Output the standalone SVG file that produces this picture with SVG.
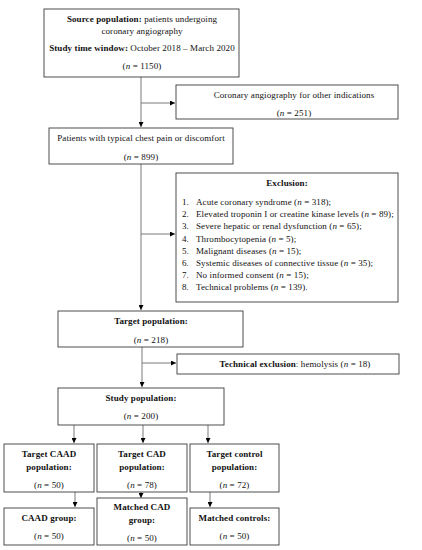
<svg xmlns="http://www.w3.org/2000/svg" width="422" height="550" viewBox="0 0 422 550">
<defs>
<marker id="ah" viewBox="0 0 6 6" refX="6" refY="3" markerWidth="5" markerHeight="5" orient="auto" markerUnits="userSpaceOnUse">
<path d="M0,0 L6,3 L0,6 Z" fill="#000"/>
</marker>
<style>
.box{fill:#fff;stroke:#3a3a3a;stroke-width:0.9}
.t{font-family:"Liberation Serif",serif;font-size:9px;letter-spacing:0.1px;fill:#111}
.c{text-anchor:middle}
.b{font-weight:bold}
.con{fill:none;stroke:#7a7a7a;stroke-width:1}
</style>
</defs>
<rect width="422" height="550" fill="#fff"/>
<g id="connectors">
<path class="con" d="M141,77 V127" marker-end="url(#ah)"/>
<path class="con" d="M141,103 H175" marker-end="url(#ah)"/>
<path class="con" d="M141,164 V310" marker-end="url(#ah)"/>
<path class="con" d="M141,234 H175" marker-end="url(#ah)"/>
<path class="con" d="M142,347 V387" marker-end="url(#ah)"/>
<path class="con" d="M142,363 H176" marker-end="url(#ah)"/>
<path class="con" d="M74,425 V443" marker-end="url(#ah)"/>
<path class="con" d="M143,425 V443" marker-end="url(#ah)"/>
<path class="con" d="M208,425 V443" marker-end="url(#ah)"/>
<path class="con" d="M75,492 V507" marker-end="url(#ah)"/>
<path class="con" d="M141,492 V498" marker-end="url(#ah)"/>
<path class="con" d="M210,492 V507" marker-end="url(#ah)"/>
</g>
<g id="source">
<rect class="box" x="44" y="9" width="195" height="68"/>
<text class="t c" x="142" y="22"><tspan class="b">Source population:</tspan> patients undergoing</text>
<text class="t c" x="142" y="34">coronary angiography</text>
<text class="t c" x="142" y="51"><tspan class="b">Study time window:</tspan> October 2018 – March 2020</text>
<text class="t c" x="142" y="69">(<tspan font-style="italic">n</tspan> = 1150)</text>
</g>
<g id="other">
<rect class="box" x="176" y="85" width="222" height="34"/>
<text class="t c" x="294" y="98">Coronary angiography for other indications</text>
<text class="t c" x="294" y="116">(<tspan font-style="italic">n</tspan> = 251)</text>
</g>
<g id="patients">
<rect class="box" x="49" y="128" width="184" height="36"/>
<text class="t c" x="141" y="141">Patients with typical chest pain or discomfort</text>
<text class="t c" x="141" y="160">(<tspan font-style="italic">n</tspan> = 899)</text>
</g>
<g id="exclusion">
<rect class="box" x="176" y="173" width="222" height="129"/>
<text class="t c b" x="287" y="186">Exclusion:</text>
<text class="t" x="182" y="205">1.</text><text class="t" x="196" y="205">Acute coronary syndrome (<tspan font-style="italic">n</tspan> = 318);</text>
<text class="t" x="182" y="217">2.</text><text class="t" x="196" y="217">Elevated troponin I or creatine kinase levels (<tspan font-style="italic">n</tspan> = 89);</text>
<text class="t" x="182" y="229">3.</text><text class="t" x="196" y="229">Severe hepatic or renal dysfunction (<tspan font-style="italic">n</tspan> = 65);</text>
<text class="t" x="182" y="241.5">4.</text><text class="t" x="196" y="241.5">Thrombocytopenia (<tspan font-style="italic">n</tspan> = 5);</text>
<text class="t" x="182" y="254">5.</text><text class="t" x="196" y="254">Malignant diseases (<tspan font-style="italic">n</tspan> = 15);</text>
<text class="t" x="182" y="266">6.</text><text class="t" x="196" y="266">Systemic diseases of connective tissue (<tspan font-style="italic">n</tspan> = 35);</text>
<text class="t" x="182" y="278">7.</text><text class="t" x="196" y="278">No informed consent (<tspan font-style="italic">n</tspan> = 15);</text>
<text class="t" x="182" y="290">8.</text><text class="t" x="196" y="290">Technical problems (<tspan font-style="italic">n</tspan> = 139).</text>
</g>
<g id="target">
<rect class="box" x="58" y="311" width="185" height="36"/>
<text class="t c b" x="151" y="324">Target population:</text>
<text class="t c" x="151" y="343">(<tspan font-style="italic">n</tspan> = 218)</text>
</g>
<g id="techexcl">
<rect class="box" x="177" y="354" width="222" height="20"/>
<text class="t c" x="295" y="367"><tspan class="b">Technical exclusion</tspan>: hemolysis (<tspan font-style="italic">n</tspan> = 18)</text>
</g>
<g id="study">
<rect class="box" x="58" y="388" width="166" height="37"/>
<text class="t c b" x="141" y="401">Study population:</text>
<text class="t c" x="141" y="419">(<tspan font-style="italic">n</tspan> = 200)</text>
</g>
<g id="target-caad">
<rect class="box" x="4" y="444" width="90" height="48"/>
<text class="t c b" x="49" y="457">Target CAAD</text>
<text class="t c b" x="49" y="470">population:</text>
<text class="t c" x="49" y="488">(<tspan font-style="italic">n</tspan> = 50)</text>
</g>
<g id="target-cad">
<rect class="box" x="97" y="444" width="90" height="48"/>
<text class="t c b" x="142" y="457">Target CAD</text>
<text class="t c b" x="142" y="470">population:</text>
<text class="t c" x="142" y="488">(<tspan font-style="italic">n</tspan> = 78)</text>
</g>
<g id="target-control">
<rect class="box" x="190" y="444" width="89" height="48"/>
<text class="t c b" x="234.5" y="457">Target control</text>
<text class="t c b" x="234.5" y="470">population:</text>
<text class="t c" x="234.5" y="488">(<tspan font-style="italic">n</tspan> = 72)</text>
</g>
<g id="caad-group">
<rect class="box" x="4" y="508" width="90" height="37"/>
<text class="t c b" x="49" y="521">CAAD group:</text>
<text class="t c" x="49" y="539">(<tspan font-style="italic">n</tspan> = 50)</text>
</g>
<g id="matched-cad">
<rect class="box" x="97" y="498" width="90" height="47"/>
<text class="t c b" x="142" y="510">Matched CAD</text>
<text class="t c b" x="142" y="523">group:</text>
<text class="t c" x="142" y="541">(<tspan font-style="italic">n</tspan> = 50)</text>
</g>
<g id="matched-controls">
<rect class="box" x="190" y="508" width="89" height="37"/>
<text class="t c b" x="234.5" y="521">Matched controls:</text>
<text class="t c" x="234.5" y="539">(<tspan font-style="italic">n</tspan> = 50)</text>
</g>
</svg>
